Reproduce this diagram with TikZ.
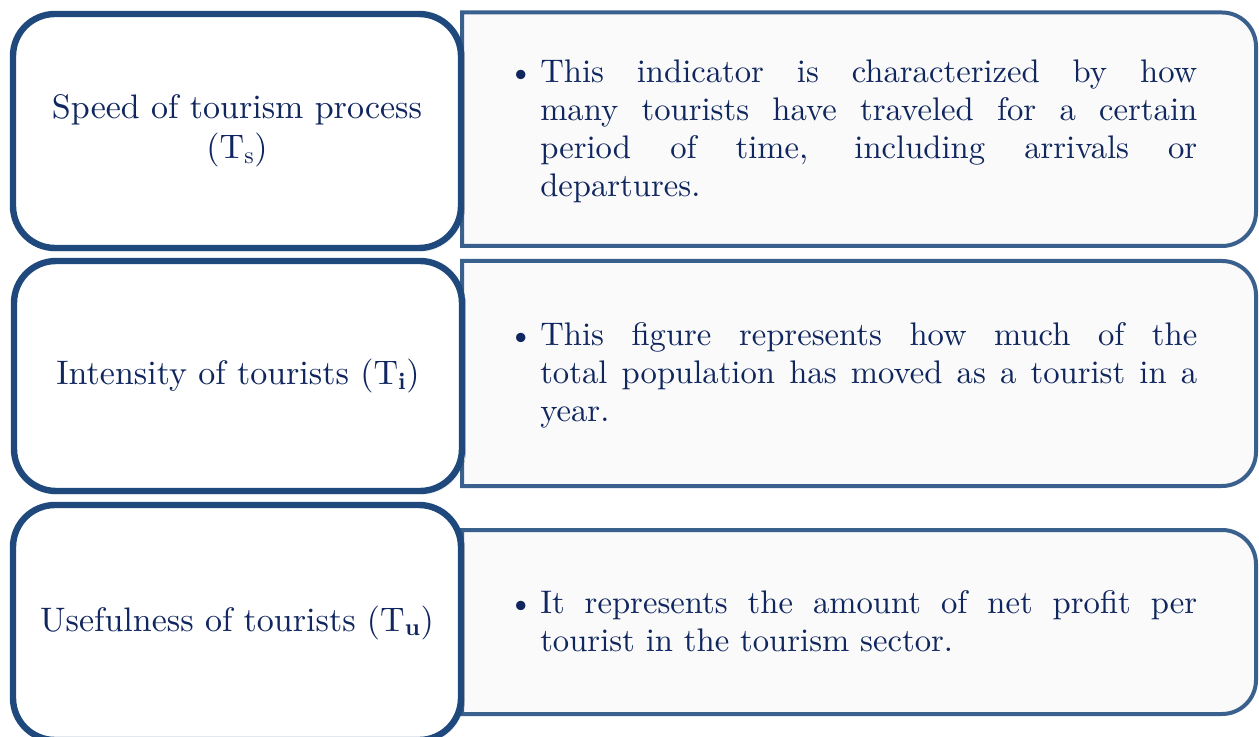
\documentclass[tikz,border=0pt]{standalone}
\usepackage{fontspec}
\setmainfont{lmroman10}[Extension=.otf, UprightFont=*-regular, BoldFont=*-bold, ItalicFont=*-italic, BoldItalicFont=*-bolditalic]
\usepackage{xcolor}
\usetikzlibrary{shadows.blur}

\definecolor{navyline}{RGB}{31,73,125}
\definecolor{paneline}{RGB}{58,96,141}
\definecolor{navytext}{RGB}{16,38,94}
\definecolor{panefill}{RGB}{250,250,250}

\tikzset{
  namebox/.style={draw=navyline, line width=4.8pt, fill=white, rounded corners=31.5pt,
    minimum width=336pt, align=center, text=navytext,
    font={\fontsize{25.5}{30}\selectfont},
    blur shadow={shadow xshift=1pt, shadow yshift=-1.5pt, shadow opacity=30, shadow blur steps=4}},
  panebox/.style={draw=paneline, line width=3pt, fill=panefill},
  panetext/.style={text width=492.75pt, align=justify, text=navytext, anchor=west, inner sep=0pt,
    font={\fontsize{24.5}{28.5}\selectfont\tolerance10000 \hbadness10000 }}
}

\begin{document}
\begin{tikzpicture}[x=0.75pt,y=0.75pt,yscale=-1,xscale=1]
\useasboundingbox (0,0) rectangle (1259,737);

%Shape: right panes
\draw [panebox] (462,12.5) -- (1222,12.5) arc [start angle=-90, end angle=0, radius=34] -- (1256,212) arc [start angle=0, end angle=90, radius=34] -- (462,246) -- cycle ;
\draw [panebox] (462,261) -- (1222,261) arc [start angle=-90, end angle=0, radius=34] -- (1256,452) arc [start angle=0, end angle=90, radius=34] -- (462,486) -- cycle ;
\draw [panebox] (462,530) -- (1222,530) arc [start angle=-90, end angle=0, radius=34] -- (1256,680) arc [start angle=0, end angle=90, radius=34] -- (462,714) -- cycle ;

%Shape: left boxes
\node [namebox, minimum height=175.5pt] (speed) at (237,131) {Speed of tourism process\\(T\textsubscript{s})};
\node [namebox, minimum height=172.5pt] (intensity) at (238,376) {Intensity of tourists (T\textsubscript{\textbf{i}})};
\node [namebox, minimum height=176.25pt] (usefulness) at (237,622.5) {Usefulness of tourists (T\textsubscript{\textbf{u}})};

% Text Node
\node [panetext] (speedinfo) at (540,131) {\noindent\llap{\textbullet\hspace{5pt}}This indicator is characterized by how\linebreak many tourists have traveled for a certain\linebreak period of time, including arrivals or\linebreak departures.};
% Text Node
\node [panetext] (intensityinfo) at (540,375) {\noindent\llap{\textbullet\hspace{5pt}}This figure represents how much of the\linebreak total population has moved as a tourist in a\linebreak year.};
% Text Node
\node [panetext] (usefulnessinfo) at (540,621) {\noindent\llap{\textbullet\hspace{5pt}}It represents the amount of net profit per\linebreak tourist in the tourism sector.};

\end{tikzpicture}
\end{document}
